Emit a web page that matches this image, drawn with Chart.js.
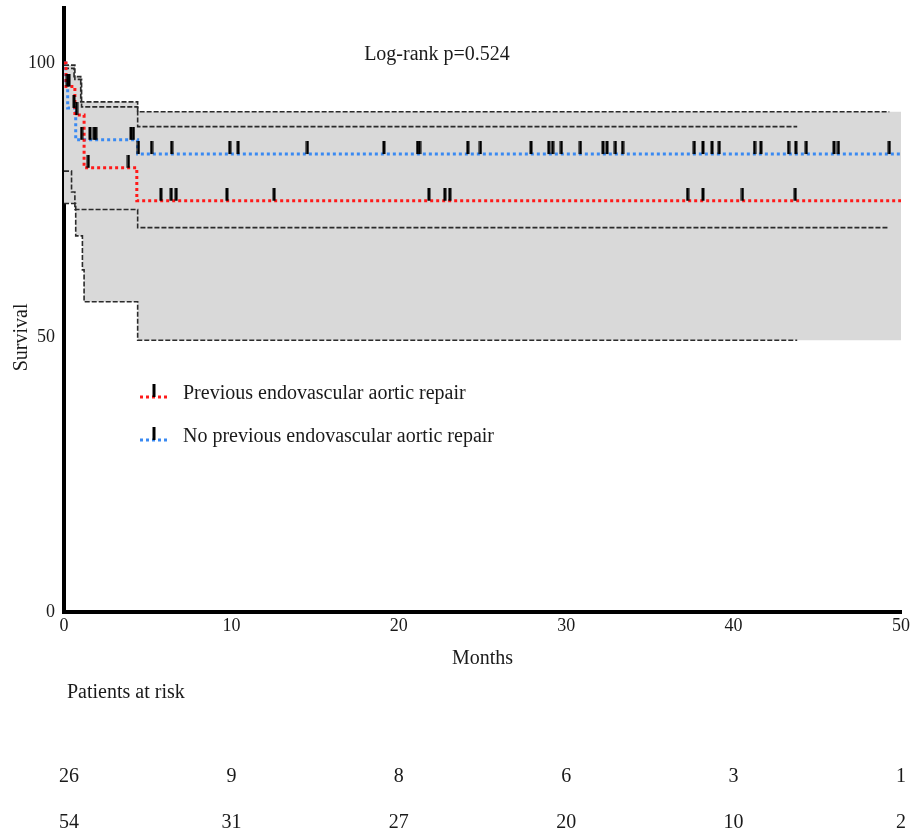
<!DOCTYPE html>
<html>
<head>
<meta charset="utf-8">
<script src="https://cdn.jsdelivr.net/npm/chart.js@4.4.1/dist/chart.umd.min.js"></script>
<style>
    html, body { margin: 0; padding: 0; background: #fff; }
    #wrap { width: 911px; height: 835px; }
</style>
</head>
<body>
<div id="wrap"><canvas id="kmChart" width="911" height="835"></canvas></div>
<script>
// Kaplan-Meier steps: value holds from each time onwards (months, % survival)
const redTimes = [0, 0.12, 0.65, 1.2, 4.35, 50];
const redSurv = [100, 95.7, 90.5, 80.9, 74.9, 74.9];
const blueTimes = [0, 0.1, 0.22, 0.7, 4.4, 50];
const blueSurv = [100, 96.3, 91.8, 86.0, 83.4, 83.4];

// censored patients (months)
const redCensor = [0.2, 0.3, 0.75, 1.45, 3.85, 5.79, 6.4, 6.7, 9.73, 12.55, 21.8, 22.75, 23.05, 37.25, 38.17, 40.53, 43.68];
const blueCensor = [0.6, 1.05, 1.55, 1.8, 1.9, 4.0, 4.15, 4.45, 5.23, 6.43, 9.9, 10.4, 14.54, 19.11, 21.12, 21.24,
    24.12, 24.88, 27.9, 28.96, 29.19, 29.71, 30.85, 32.2, 32.44, 32.94, 33.37, 37.65, 38.17, 38.71, 39.14,
    41.25, 41.63, 43.28, 43.72, 44.34, 46.0, 46.26, 49.3];

// 95% confidence bands
const blueUpperTimes = [0, 0.6, 1.0, 4.4, 49.3];
const blueUpper = [99.0, 97.5, 92.9, 91.1, 91.1];
const redUpperTimes = [0, 0.65, 1.05, 4.4, 43.8];
const redUpper = [99.6, 97.0, 92.0, 88.4, 88.4];
const blueLowerTimes = [0, 0.45, 0.65, 4.4, 49.3];
const blueLower = [80.3, 76.5, 73.3, 70.0, 70.0];
const redLowerTimes = [0, 0.7, 1.1, 1.2, 4.4, 43.8];
const redLower = [74.4, 68.5, 62.3, 56.5, 49.5, 49.5];

const yTicks = [0, 50, 100];
const riskTimes = [0, 10, 20, 30, 40, 50];
const riskRed = [26, 9, 8, 6, 3, 1];
const riskBlue = [54, 31, 27, 20, 10, 2];

const pText = 'Log-rank p=0.524';
const redLabel = 'Previous endovascular aortic repair';
const blueLabel = 'No previous endovascular aortic repair';

const FONT = '"Liberation Serif", "Times New Roman", serif';
const RED = '#ff1a1a';
const BLUE = '#3a8af2';

function stepAt(times, vals, t) {
    let v = vals[0];
    for (let i = 0; i < times.length; i++) {
        if (times[i] <= t) v = vals[i];
    }
    return v;
}

function toPoints(times, vals) {
    return times.map((t, i) => ({ x: t, y: vals[i] }));
}

// grey area = union of both bands, carried on to the end of the axis
let grid = [...new Set([...blueUpperTimes, ...redUpperTimes, ...blueLowerTimes, ...redLowerTimes, 50])].sort((a, b) => a - b);
let fillTop = grid.map(t => ({ x: t, y: Math.max(stepAt(blueUpperTimes, blueUpper, t), stepAt(redUpperTimes, redUpper, t)) }));
let fillBottom = grid.map(t => ({ x: t, y: Math.min(stepAt(blueLowerTimes, blueLower, t), stepAt(redLowerTimes, redLower, t)) }));

// censor tick: bar sitting on top of the curve
const markImg = document.createElement('canvas');
markImg.width = 4;
markImg.height = 26;
let mctx = markImg.getContext('2d');
mctx.fillStyle = '#000';
mctx.fillRect(0.5, 0, 3, 13);

function censorSet(times, vals, censor) {
    return {
        data: censor.map(t => ({ x: t, y: stepAt(times, vals, t) })),
        showLine: false,
        pointStyle: markImg,
        pointRadius: 6,
        borderColor: '#000',
        backgroundColor: '#000'
    };
}

function curveSet(times, vals, color) {
    return {
        data: toPoints(times, vals),
        stepped: 'before',
        borderColor: color,
        borderWidth: 3,
        borderDash: [3, 3],
        pointRadius: 0,
        fill: false
    };
}

function bandSet(times, vals) {
    return {
        data: toPoints(times, vals),
        stepped: 'before',
        borderColor: '#2b2b2b',
        borderWidth: 1.6,
        borderDash: [5, 2],
        pointRadius: 0,
        fill: false
    };
}

const textPlugin = {
    id: 'kmText',
    afterDraw(chart) {
        const { ctx, scales: { x, y } } = chart;
        ctx.save();
        ctx.fillStyle = '#1a1a1a';
        ctx.font = '20px ' + FONT;
        ctx.textAlign = 'center';
        ctx.textBaseline = 'middle';
        ctx.fillText(pText, 437, 55);

        // y axis title
        ctx.save();
        ctx.translate(22, y.getPixelForValue(50));
        ctx.rotate(-Math.PI / 2);
        ctx.fillText('Survival', 0, 0);
        ctx.restore();

        // legend
        [[redLabel, RED, 397], [blueLabel, BLUE, 440]].forEach(([label, color, ly]) => {
            ctx.save();
            ctx.strokeStyle = color;
            ctx.lineWidth = 3;
            ctx.setLineDash([3, 3]);
            ctx.beginPath();
            ctx.moveTo(140, ly);
            ctx.lineTo(170, ly);
            ctx.stroke();
            ctx.restore();
            ctx.drawImage(markImg, 152, ly - 13);
            ctx.textAlign = 'left';
            ctx.fillText(label, 183, ly - 3);
        });

        // patients at risk
        ctx.textAlign = 'left';
        ctx.fillText('Patients at risk', 67, 693);
        ctx.textAlign = 'center';
        riskTimes.forEach((t, i) => {
            let px = Math.max(x.getPixelForValue(t), 69);
            ctx.fillText(String(riskRed[i]), px, 777);
            ctx.fillText(String(riskBlue[i]), px, 823);
        });
        ctx.restore();
    }
};

new Chart(document.getElementById('kmChart'), {
    type: 'line',
    data: {
        datasets: [
            censorSet(redTimes, redSurv, redCensor),
            censorSet(blueTimes, blueSurv, blueCensor),
            curveSet(redTimes, redSurv, RED),
            curveSet(blueTimes, blueSurv, BLUE),
            bandSet(blueUpperTimes, blueUpper),
            bandSet(redUpperTimes, redUpper),
            bandSet(blueLowerTimes, blueLower),
            bandSet(redLowerTimes, redLower),
            {
                data: fillTop,
                stepped: 'before',
                borderWidth: 0,
                pointRadius: 0,
                backgroundColor: '#d9d9d9',
                fill: '+1'
            },
            {
                data: fillBottom,
                stepped: 'before',
                borderWidth: 0,
                pointRadius: 0,
                fill: false
            }
        ]
    },
    options: {
        responsive: false,
        animation: false,
        layout: { padding: { top: 8, right: 10, bottom: 163, left: 0 } },
        scales: {
            x: {
                type: 'linear',
                min: 0,
                max: 50,
                grid: { display: false, drawTicks: false },
                border: { display: true, color: '#000', width: 4 },
                ticks: { stepSize: 10, padding: 3, color: '#1a1a1a', font: { family: FONT, size: 18 } },
                title: { display: true, text: 'Months', color: '#1a1a1a', font: { family: FONT, size: 20 }, padding: { top: 0, bottom: 1 } },
                afterFit: (scale) => {
                    scale.height = 60;
                    scale.paddingLeft = 0;
                    scale.paddingRight = 0;
                }
            },
            y: {
                min: 0,
                max: 110,
                grid: { display: false, drawTicks: false },
                border: { display: true, color: '#000', width: 4 },
                ticks: { padding: 9, color: '#1a1a1a', font: { family: FONT, size: 18 } },
                afterBuildTicks: (scale) => { scale.ticks = yTicks.map(v => ({ value: v })); },
                afterFit: (scale) => {
                    scale.width = 64;
                    scale.paddingTop = 0;
                    scale.paddingBottom = 0;
                }
            }
        },
        plugins: {
            legend: { display: false },
            tooltip: { enabled: false }
        }
    },
    plugins: [textPlugin]
});
</script>
</body>
</html>
